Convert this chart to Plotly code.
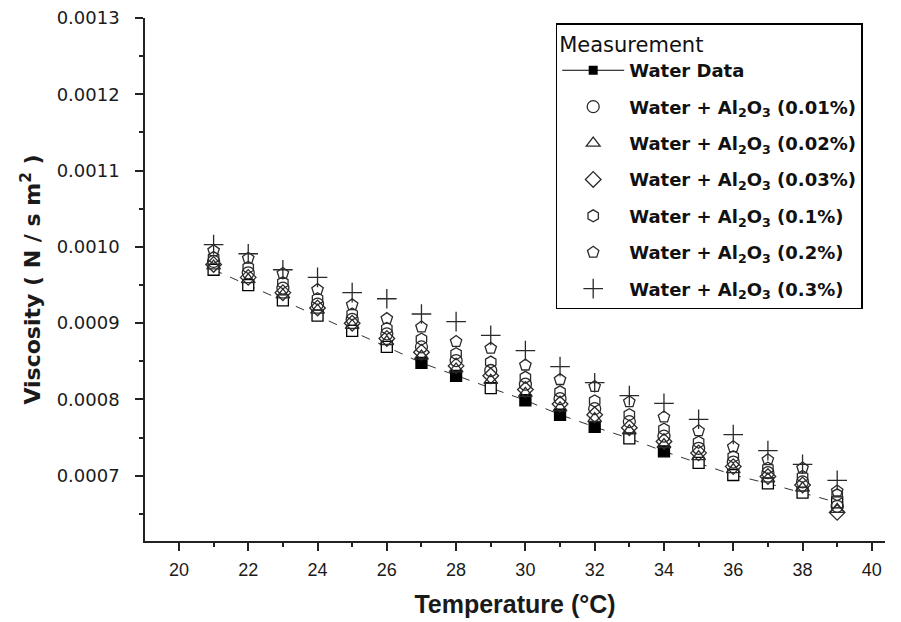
import plotly.graph_objects as go

temps = [21, 22, 23, 24, 25, 26, 27, 28, 29, 30, 31, 32, 33, 34, 35, 36, 37, 38, 39]

water = [0.000970, 0.000950, 0.000930, 0.000910, 0.000890, 0.000869, 0.000848, 0.000831,
         0.000815, 0.000799, 0.000780, 0.000764, 0.000749, 0.000732, 0.000717, 0.000701,
         0.000690, 0.000678, 0.000665]
al_001 = [0.000981, 0.000966, 0.000946, 0.000925, 0.000905, 0.000886, 0.000869, 0.000851,
          0.000838, 0.000820, 0.000801, 0.000788, 0.000771, 0.000752, 0.000736, 0.000718,
          0.000704, 0.000692, 0.000660]
al_002 = [0.000975, 0.000957, 0.000937, 0.000917, 0.000897, 0.000876, 0.000857, 0.000840,
          0.000825, 0.000808, 0.000789, 0.000775, 0.000759, 0.000741, 0.000725, 0.000708,
          0.000696, 0.000684, 0.000656]
al_003 = [0.000977, 0.000960, 0.000940, 0.000920, 0.000900, 0.000880, 0.000862, 0.000844,
          0.000831, 0.000813, 0.000794, 0.000780, 0.000763, 0.000745, 0.000730, 0.000712,
          0.000699, 0.000688, 0.000652]
al_01 = [0.000986, 0.000973, 0.000953, 0.000932, 0.000912, 0.000893, 0.000879, 0.000860,
         0.000849, 0.000829, 0.000810, 0.000798, 0.000780, 0.000761, 0.000744, 0.000725,
         0.000710, 0.000699, 0.000675]
al_02 = [0.000995, 0.000985, 0.000965, 0.000944, 0.000924, 0.000906, 0.000895, 0.000876,
         0.000867, 0.000845, 0.000826, 0.000817, 0.000797, 0.000777, 0.000759, 0.000738,
         0.000721, 0.000710, 0.000680]
al_03 = [0.001003, 0.000991, 0.000970, 0.000960, 0.000940, 0.000932, 0.000912, 0.000902,
         0.000884, 0.000864, 0.000843, 0.000822, 0.000805, 0.000795, 0.000774, 0.000754,
         0.000733, 0.000715, 0.000694]

water_filled_temps = [27, 28, 30, 31, 32, 34]

series = [
    ("Water + Al<sub>2</sub>O<sub>3</sub> (0.01%)", al_001, "circle-open"),
    ("Water + Al<sub>2</sub>O<sub>3</sub> (0.02%)", al_002, "triangle-up-open"),
    ("Water + Al<sub>2</sub>O<sub>3</sub> (0.03%)", al_003, "diamond-open"),
    ("Water + Al<sub>2</sub>O<sub>3</sub> (0.1%)", al_01, "hexagon-open"),
    ("Water + Al<sub>2</sub>O<sub>3</sub> (0.2%)", al_02, "pentagon-open"),
    ("Water + Al<sub>2</sub>O<sub>3</sub> (0.3%)", al_03, "cross-thin-open"),
]

INK = "#2a2a2a"
WIDE = "DejaVu Sans, Verdana, sans-serif"
ARIAL = "Liberation Sans, Arial, sans-serif"
fig = go.Figure()

fill_cols = ["black" if t in water_filled_temps else "white" for t in temps]
fig.add_trace(go.Scatter(
    x=temps, y=water, mode="lines+markers", showlegend=False,
    line=dict(color="#333", width=1, dash="dash"),
    marker=dict(symbol="square", size=11, color=fill_cols, line=dict(color="black", width=1.3)),
))
fig.add_trace(go.Scatter(
    x=[None], y=[None], mode="lines+markers", name="<b>Water Data</b>", legendgroup="g0",
    line=dict(color="black", width=1.2),
    marker=dict(symbol="square", size=9, color="black"),
))

for i, (name, vals, sym) in enumerate(series):
    fig.add_trace(go.Scatter(
        x=temps, y=vals, mode="markers", name="<b>" + name + "</b>", legendgroup="g%d" % (i + 1),
        marker=dict(symbol=sym, size=12 if sym != "cross-thin-open" else 14, color=INK,
                    line=dict(color=INK, width=1.3)),
    ))

fig.update_layout(
    width=901, height=622,
    margin=dict(l=145, r=16, t=18, b=81, autoexpand=False),
    plot_bgcolor="white", paper_bgcolor="white",
    font=dict(family=ARIAL, color="#1a1a1a"),
    legend=dict(
        x=0.555, y=0.99, xanchor="left", yanchor="top",
        bordercolor="black", borderwidth=1.5, bgcolor="white",
        font=dict(size=18, family=WIDE, color="#111"),
        title=dict(text="Measurement", font=dict(size=21, family=WIDE, color="#111")),
        tracegroupgap=10,
        itemwidth=62,
    ),
    xaxis=dict(
        range=[19.02, 40.38], tickmode="linear", tick0=20, dtick=2,
        automargin=False,
        ticks="outside", ticklen=8, tickwidth=1.5, tickcolor="#222",
        showline=True, linecolor="#222", linewidth=1.5, showgrid=False, zeroline=False,
        tickfont=dict(size=18, family=ARIAL, color="#1a1a1a"),
        ticklabelstandoff=4,
        minor=dict(ticks="outside", ticklen=4, tickwidth=1.5, tickcolor="#222", dtick=1, tick0=19, showgrid=False),
        title=dict(text="<b>Temperature (°C)</b>", font=dict(size=25, family=ARIAL), standoff=16),
    ),
    yaxis=dict(
        range=[0.0006145, 0.0013], tickmode="linear", tick0=0.0007, dtick=0.0001,
        tickformat=".4f",
        automargin=False,
        ticks="outside", ticklen=8, tickwidth=1.5, tickcolor="#222",
        showline=True, linecolor="#222", linewidth=1.5, showgrid=False, zeroline=False,
        tickfont=dict(size=18, family=WIDE, color="#1a1a1a"),
        ticklabelstandoff=12,
        minor=dict(ticks="outside", ticklen=4, tickwidth=1.5, tickcolor="#222", dtick=0.00005, tick0=0.00065, showgrid=False),
        title=dict(text="<b>Viscosity ( N / s m<sup>2</sup> )</b>", font=dict(size=22, family=WIDE), standoff=10),
    ),
)

fig.write_html("out.html")
